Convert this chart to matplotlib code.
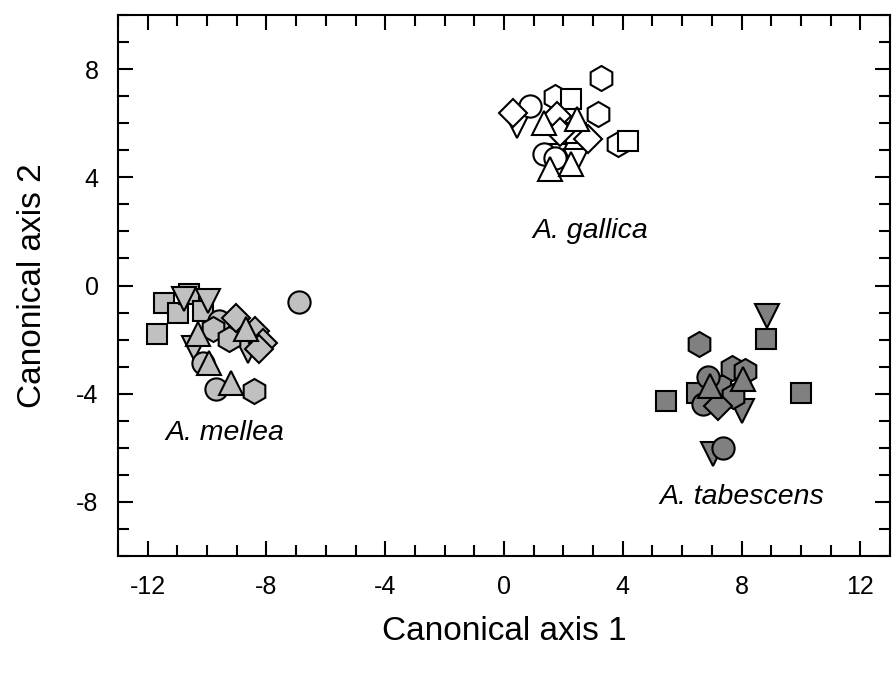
import matplotlib
matplotlib.use('Agg')
import matplotlib.pyplot as plt
from matplotlib.ticker import MultipleLocator

plt.rcParams['font.family'] = ['Liberation Sans', 'DejaVu Sans']
plt.rcParams['axes.unicode_minus'] = False

# A. gallica (white)
gallica = {
    'v': ([0.45, 1.73, 2.41], [5.90, 4.78, 4.60]),
    'h': ([3.25, 1.70, 3.15, 3.85], [7.67, 6.97, 6.34, 5.23]),
    's': ([2.24, 2.41, 4.19], [6.89, 5.63, 5.34]),
    'o': ([0.89, 1.33, 1.73], [6.63, 4.86, 4.71]),
    'D': ([0.29, 1.80, 1.90, 2.84], [6.37, 6.26, 5.67, 5.41]),
    '^': ([1.33, 2.47, 1.56, 2.24], [6.00, 6.15, 4.30, 4.49]),
}

# A. mellea (light grey)
mellea = {
    's': ([-11.46, -11.70, -10.99, -10.62, -10.15], [-0.65, -1.79, -1.02, -0.31, -0.94]),
    'v': ([-10.79, -9.98, -10.45, -8.63], [-0.50, -0.57, -2.31, -2.42]),
    'o': ([-6.90, -9.61, -10.15, -9.71], [-0.62, -1.31, -2.86, -3.83]),
    'h': ([-9.81, -9.27, -8.43], [-1.61, -1.98, -3.90]),
    'D': ([-9.04, -8.37, -8.13, -8.26], [-1.20, -1.68, -2.13, -2.35]),
    '^': ([-8.70, -10.32, -9.95, -9.21], [-1.61, -1.79, -2.86, -3.60]),
}

# A. tabescens (dark grey)
tabescens = {
    'v': ([8.87, 8.03, 7.05], [-1.13, -4.64, -6.23]),
    's': ([8.83, 5.44, 10.01, 6.51, 7.30], [-1.98, -4.27, -3.97, -3.97, -3.70]),
    'h': ([6.58, 7.69, 8.13, 7.72], [-2.16, -3.05, -3.16, -4.08]),
    'o': ([6.88, 6.71, 7.39], [-3.38, -4.38, -6.00]),
    'D': ([7.22], [-4.45]),
    '^': ([6.95, 8.06], [-3.71, -3.46]),
}

sizes = {'o': 16, 's': 14, 'h': 18, 'D': 14, '^': 17, 'v': 17}

fig = plt.figure(figsize=(8.92, 6.73), dpi=100)
ax = fig.add_axes([0.1323, 0.1738, 0.8655, 0.8039])

for group, color in [(gallica, 'white'), (mellea, '#c0c0c0'), (tabescens, '#808080')]:
    for m, (xs, ys) in group.items():
        ax.plot(xs, ys, linestyle='none', marker=m, markersize=sizes[m],
                markerfacecolor=color, markeredgecolor='black', markeredgewidth=1.5)

ax.text(2.9, 2.0, 'A. gallica', style='italic', fontsize=20.5, ha='center', va='center')
ax.text(-9.4, -5.45, 'A. mellea', style='italic', fontsize=20.5, ha='center', va='center')
ax.text(8.0, -7.8, 'A. tabescens', style='italic', fontsize=20.5, ha='center', va='center')

ax.set_xlim(-13, 13)
ax.set_ylim(-10, 10)
ax.xaxis.set_major_locator(MultipleLocator(4))
ax.xaxis.set_minor_locator(MultipleLocator(1))
ax.yaxis.set_major_locator(MultipleLocator(4))
ax.yaxis.set_minor_locator(MultipleLocator(1))
ax.tick_params(which='both', direction='in', top=True, right=True, width=1.5,
               labelsize=18, pad=14)
ax.tick_params(which='major', length=11)
ax.tick_params(which='minor', length=8)
for s in ax.spines.values():
    s.set_linewidth(1.5)

ax.set_xlabel('Canonical axis 1', fontsize=24, labelpad=12)
ax.set_ylabel('Canonical axis 2', fontsize=24, labelpad=20)

fig.savefig('out.png', dpi=100)
